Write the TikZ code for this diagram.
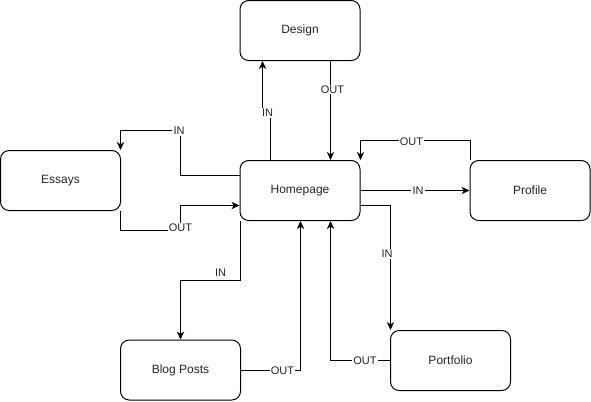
\documentclass[tikz,border=0pt]{standalone}
\usepackage{fontspec}
\setmainfont{Liberation Sans}
\usetikzlibrary{arrows.meta}
\begin{document}
\begin{tikzpicture}[x=0.75pt,y=-0.75pt,
  box/.style={draw=black, line width=0.75pt, rounded corners=6.5pt, fill=white,
    minimum width=90pt, minimum height=45pt, inner sep=0pt, font=\fontsize{9pt}{11pt}\selectfont, text=black!85},
  conn/.style={draw=black, line width=0.75pt, -{Stealth[length=6pt,width=5.5pt,inset=1.8pt]}},
  lbl/.style={fill=white, inner sep=0.8pt, font=\fontsize{8.25pt}{10pt}\selectfont, text=black!85}]
\useasboundingbox (0,0) rectangle (591,401);
\node[box] (design) at (300,30.5) {Design};
\node[box] (home) at (300,190.5) {Homepage};
\node[box] (profile) at (530,190.5) {Profile};
\node[box] (essays) at (60.5,180.5) {Essays};
\node[box] (blog) at (180.5,370) {Blog Posts};
\node[box] (portfolio) at (450.5,360.5) {Portfolio};
% Homepage -> Design
\draw[conn] (270.5,0 |- home.north) -- (270.5,113) -- (262.5,113) -- (262.5,0 |- design.south);
\node[lbl] (l1) at (267.5,113) {IN};
% Design -> Homepage
\draw[conn] (330.5,0 |- design.south) -- (330.5,0 |- home.north);
\node[lbl] (l2) at (332.5,89.5) {OUT};
% Profile -> Homepage
\draw[conn] (470.5,0 |- profile.north) -- (470.5,140.5) -- (360.5,140.5) -- (360.5,0 |- home.north);
\node[lbl] (l3) at (411.5,141.5) {OUT};
% Homepage -> Profile
\draw[conn] (home.east) -- (profile.west);
\node[lbl] (l4) at (418,190.5) {IN};
% Homepage -> Essays
\draw[conn] (home.west |- 0,175.5) -- (180.5,175.5) -- (180.5,130.5) -- (120.5,130.5) -- (120.5,0 |- essays.north);
\node[lbl] (l5) at (179,131) {IN};
% Essays -> Homepage
\draw[conn] (120.5,0 |- essays.south) -- (120.5,230.5) -- (180.5,230.5) -- (180.5,205.5) -- (home.west |- 0,205.5);
\node[lbl] (l6) at (180.5,227.5) {OUT};
% Homepage -> Blog Posts
\draw[conn] (240.5,0 |- home.south) -- (240.5,280.5) -- (180.5,280.5) -- (180.5,0 |- blog.north);
\node[lbl, fill=none] (l7) at (220.5,272.5) {IN};
% Blog Posts -> Homepage
\draw[conn] (blog.east |- 0,370.5) -- (300.5,370.5) -- (300.5,0 |- home.south);
\node[lbl] (l8) at (282.5,371) {OUT};
% Homepage -> Portfolio
\draw[conn] (home.east |- 0,205.5) -- (390.5,205.5) -- (390.5,0 |- portfolio.north);
\node[lbl] (l9) at (387,254) {IN};
% Portfolio -> Homepage
\draw[conn] (portfolio.west |- 0,360.5) -- (330.5,360.5) -- (330.5,0 |- home.south);
\node[lbl] (l10) at (365,361) {OUT};
\end{tikzpicture}
\end{document}
